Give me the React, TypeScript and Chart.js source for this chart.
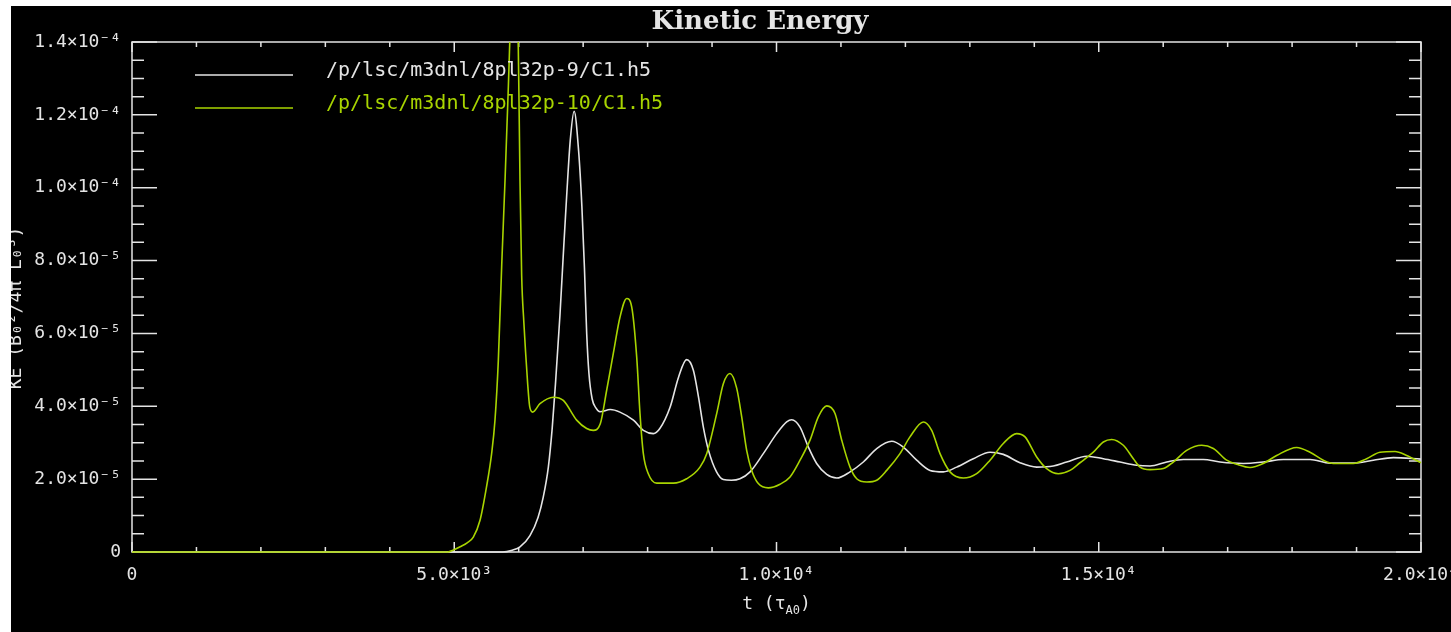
import React, { useEffect, useRef } from "react";
import { Chart, registerables } from "chart.js";

Chart.register(...registerables);

// time in tau_A0
const tWhite = [0, 5500, 5750, 5900, 6020, 6175, 6300, 6380, 6460, 6520, 6570, 6640, 6690, 6745, 6800, 6860, 6930, 6980, 7020, 7055, 7090, 7140, 7200, 7260, 7420, 7570, 7780, 7935, 8090, 8190, 8350, 8480, 8606, 8710, 8790, 8865, 8945, 9070, 9175, 9300, 9433, 9590, 9795, 10003, 10158, 10236, 10365, 10494, 10623, 10779, 10934, 11141, 11347, 11555, 11788, 11968, 12175, 12382, 12589, 12796, 13054, 13313, 13519, 13778, 14037, 14295, 14502, 14813, 15071, 15330, 15589, 15796, 16055, 16312, 16623, 16881, 17243, 17553, 17864, 18278, 18588, 18950, 19260, 19571, 20000];
// kinetic energy, in units of 1e-5
const keWhite = [0, 0, 0, 0.05, 0.14, 0.45, 0.95, 1.5, 2.33, 3.4, 4.6, 6.5, 8.1, 9.8, 11.3, 12.1, 11.0, 9.5, 7.8, 6.0, 4.9, 4.2, 3.95, 3.85, 3.91, 3.84, 3.62, 3.34, 3.25, 3.39, 3.98, 4.8, 5.28, 4.99, 4.25, 3.43, 2.79, 2.2, 1.99, 1.97, 2.01, 2.2, 2.7, 3.25, 3.57, 3.63, 3.43, 2.88, 2.43, 2.13, 2.03, 2.2, 2.47, 2.84, 3.04, 2.88, 2.52, 2.24, 2.2, 2.33, 2.56, 2.74, 2.68, 2.45, 2.33, 2.36, 2.47, 2.63, 2.56, 2.47, 2.38, 2.36, 2.47, 2.54, 2.54, 2.47, 2.43, 2.47, 2.54, 2.54, 2.44, 2.44, 2.52, 2.59, 2.55];

const tGreen = [0, 4900, 4980, 5100, 5200, 5296, 5400, 5500, 5580, 5632, 5684, 5737, 5790, 5840, 5880, 5930, 5985, 6020, 6046, 6080, 6110, 6140, 6170, 6217, 6330, 6537, 6692, 6899, 7055, 7157, 7266, 7365, 7468, 7572, 7676, 7753, 7831, 7882, 7934, 8011, 8141, 8400, 8606, 8813, 8917, 9072, 9175, 9278, 9382, 9460, 9537, 9615, 9718, 9873, 10055, 10210, 10365, 10520, 10649, 10779, 10908, 11012, 11141, 11245, 11400, 11555, 11710, 11916, 12071, 12278, 12408, 12537, 12692, 12899, 13106, 13313, 13519, 13726, 13856, 14037, 14192, 14373, 14554, 14709, 14916, 15071, 15200, 15381, 15537, 15641, 15796, 16002, 16157, 16364, 16597, 16778, 16985, 17140, 17347, 17553, 17760, 18071, 18278, 18484, 18639, 18950, 19157, 19364, 19597, 19778, 20000];
const keGreen = [0, 0, 0.05, 0.15, 0.25, 0.41, 0.87, 1.78, 2.7, 3.62, 5.26, 7.9, 10.3, 12.8, 15.0, 17.0, 15.0, 10.2, 7.6, 6.3, 5.4, 4.6, 4.0, 3.84, 4.07, 4.25, 4.16, 3.62, 3.39, 3.34, 3.52, 4.44, 5.45, 6.45, 6.96, 6.73, 5.35, 3.8, 2.7, 2.15, 1.89, 1.89, 2.01, 2.33, 2.7, 3.8, 4.62, 4.9, 4.5, 3.71, 2.79, 2.24, 1.88, 1.76, 1.86, 2.06, 2.52, 3.07, 3.71, 4.01, 3.8, 3.07, 2.33, 2.01, 1.92, 1.97, 2.24, 2.7, 3.16, 3.57, 3.34, 2.7, 2.2, 2.03, 2.15, 2.52, 2.98, 3.25, 3.16, 2.61, 2.29, 2.15, 2.24, 2.45, 2.74, 3.02, 3.09, 2.93, 2.56, 2.33, 2.26, 2.29, 2.47, 2.79, 2.93, 2.84, 2.52, 2.41, 2.32, 2.43, 2.65, 2.87, 2.74, 2.52, 2.43, 2.43, 2.56, 2.74, 2.76, 2.65, 2.45];

const seriesNames = ["/p/lsc/m3dnl/8pl32p-9/C1.h5", "/p/lsc/m3dnl/8pl32p-10/C1.h5"];
const xTickLabels = ["0", "5.0×10³", "1.0×10⁴", "1.5×10⁴", "2.0×10⁴"];
const yTickLabels = ["0", "2.0×10⁻⁵", "4.0×10⁻⁵", "6.0×10⁻⁵", "8.0×10⁻⁵", "1.0×10⁻⁴", "1.2×10⁻⁴", "1.4×10⁻⁴"];
const chartTitle = "Kinetic Energy";
const yTitle = "KE (B₀²/4π L₀³)";

const X_MAX = 20000;
const Y_MAX = 14;
const X_MAJOR = 5000;
const X_MINOR = 1000;
const Y_MAJOR = 2;
const Y_MINOR = 0.5;

const FG = "#e4e4e4";
const GREEN = "rgb(168,212,0)";
const MONO = "'DejaVu Sans Mono', monospace";
const W = 1440;
const H = 626;

const idlPlugin = {
  id: "idlAxes",
  beforeDatasetsDraw(chart: any) {
    const { ctx, chartArea: a, scales } = chart;
    const xs = scales.x;
    const ys = scales.y;
    ctx.save();
    ctx.strokeStyle = FG;
    ctx.lineWidth = 1.5;
    ctx.strokeRect(a.left, a.top, a.right - a.left, a.bottom - a.top);
    ctx.beginPath();
    for (let i = 0; i <= Math.round(Y_MAX / Y_MINOR); i++) {
      const v = i * Y_MINOR;
      const py = ys.getPixelForValue(v);
      const major = i % Math.round(Y_MAJOR / Y_MINOR) === 0;
      const len = major ? 25 : 12;
      ctx.moveTo(a.left, py);
      ctx.lineTo(a.left + len, py);
      ctx.moveTo(a.right, py);
      ctx.lineTo(a.right - len, py);
    }
    for (let i = 0; i <= Math.round(X_MAX / X_MINOR); i++) {
      const t = i * X_MINOR;
      const px = xs.getPixelForValue(t);
      const major = i % Math.round(X_MAJOR / X_MINOR) === 0;
      const len = major ? 10 : 5;
      ctx.moveTo(px, a.bottom);
      ctx.lineTo(px, a.bottom - len);
      ctx.moveTo(px, a.top);
      ctx.lineTo(px, a.top + len);
    }
    ctx.stroke();
    ctx.restore();
  },
  afterDraw(chart: any) {
    const { ctx, chartArea: a } = chart;
    ctx.save();
    // title
    ctx.fillStyle = FG;
    ctx.font = "bold 26px 'DejaVu Serif', serif";
    ctx.textAlign = "center";
    ctx.textBaseline = "middle";
    ctx.fillText(chartTitle, 749, 16);

    // legend
    const colors = [FG, GREEN];
    const rows = [69, 102];
    for (let i = 0; i < seriesNames.length; i++) {
      ctx.strokeStyle = colors[i];
      ctx.lineWidth = 1.6;
      ctx.beginPath();
      ctx.moveTo(184, rows[i]);
      ctx.lineTo(282, rows[i]);
      ctx.stroke();
      ctx.fillStyle = colors[i];
      ctx.font = `20px ${MONO}`;
      ctx.textAlign = "left";
      ctx.textBaseline = "middle";
      ctx.fillText(seriesNames[i], 315, rows[i] - 4);
    }

    // x title: t (τ_A0)
    ctx.fillStyle = FG;
    ctx.textBaseline = "alphabetic";
    ctx.textAlign = "left";
    const big = `18px ${MONO}`;
    const small = `12px ${MONO}`;
    ctx.font = big;
    const p1 = "t (τ";
    const p3 = ")";
    const w1 = ctx.measureText(p1).width;
    const w3 = ctx.measureText(p3).width;
    ctx.font = small;
    const p2 = "A0";
    const w2 = ctx.measureText(p2).width;
    const cx = (a.left + a.right) / 2;
    let x0 = cx - (w1 + w2 + w3) / 2;
    const base = 603;
    ctx.font = big;
    ctx.fillText(p1, x0, base);
    x0 += w1;
    ctx.font = small;
    ctx.fillText(p2, x0, base + 5);
    x0 += w2;
    ctx.font = big;
    ctx.fillText(p3, x0, base);

    // y title
    ctx.translate(5, 302);
    ctx.rotate(-Math.PI / 2);
    ctx.font = `18px ${MONO}`;
    ctx.textAlign = "center";
    ctx.textBaseline = "middle";
    ctx.fillText(yTitle, 0, 0);
    ctx.restore();
  },
};

export default function App() {
  const ref = useRef<HTMLCanvasElement | null>(null);
  useEffect(() => {
    if (!ref.current) return;
    const clip = { left: 2, top: 0, right: 2, bottom: 2 };
    const chart = new Chart(ref.current, {
      type: "line",
      data: {
        datasets: [
          {
            label: seriesNames[0],
            data: tWhite.map((t, i) => ({ x: t, y: keWhite[i] })),
            borderColor: FG,
            borderWidth: 1.6,
            pointRadius: 0,
            cubicInterpolationMode: "monotone",
            fill: false,
            clip,
            order: 1,
          },
          {
            label: seriesNames[1],
            data: tGreen.map((t, i) => ({ x: t, y: keGreen[i] })),
            borderColor: GREEN,
            borderWidth: 1.6,
            pointRadius: 0,
            cubicInterpolationMode: "monotone",
            fill: false,
            clip,
            order: 0,
          },
        ],
      },
      options: {
        animation: false,
        responsive: false,
        devicePixelRatio: 1,
        layout: { padding: { left: 0, right: 30, top: 36, bottom: 0 } },
        plugins: {
          legend: { display: false },
          title: { display: false },
          tooltip: { enabled: false },
        },
        scales: {
          x: {
            type: "linear",
            min: 0,
            max: X_MAX,
            grid: { display: false, drawTicks: false },
            border: { display: false },
            afterBuildTicks: (scale: any) => {
              scale.ticks = xTickLabels.map((_, i) => ({ value: i * X_MAJOR }));
            },
            ticks: {
              color: FG,
              font: { family: "'DejaVu Sans Mono', monospace", size: 18 },
              padding: 13,
              autoSkip: false,
              maxRotation: 0,
              minRotation: 0,
              callback: (v: any) => xTickLabels[Math.round(Number(v) / X_MAJOR)] ?? "",
            },
            afterFit: (scale: any) => {
              scale.height = 80;
              scale.paddingLeft = 0;
              scale.paddingRight = 0;
            },
          },
          y: {
            type: "linear",
            min: 0,
            max: Y_MAX,
            grid: { display: false, drawTicks: false },
            border: { display: false },
            afterBuildTicks: (scale: any) => {
              scale.ticks = yTickLabels.map((_, i) => ({ value: i * Y_MAJOR }));
            },
            ticks: {
              color: FG,
              font: { family: "'DejaVu Sans Mono', monospace", size: 18 },
              padding: 11,
              autoSkip: false,
              callback: (v: any) => yTickLabels[Math.round(Number(v) / Y_MAJOR)] ?? "",
            },
            afterFit: (scale: any) => {
              scale.width = 121;
              scale.paddingTop = 0;
              scale.paddingBottom = 0;
            },
          },
        },
      },
      plugins: [idlPlugin],
    } as any);
    return () => chart.destroy();
  }, []);

  return (
    <div
      style={{
        position: "fixed",
        left: 11,
        top: 6,
        width: W,
        height: H,
        background: "#000",
        overflow: "hidden",
      }}
    >
      <canvas ref={ref} width={W} height={H} style={{ display: "block", width: W, height: H }} />
    </div>
  );
}
